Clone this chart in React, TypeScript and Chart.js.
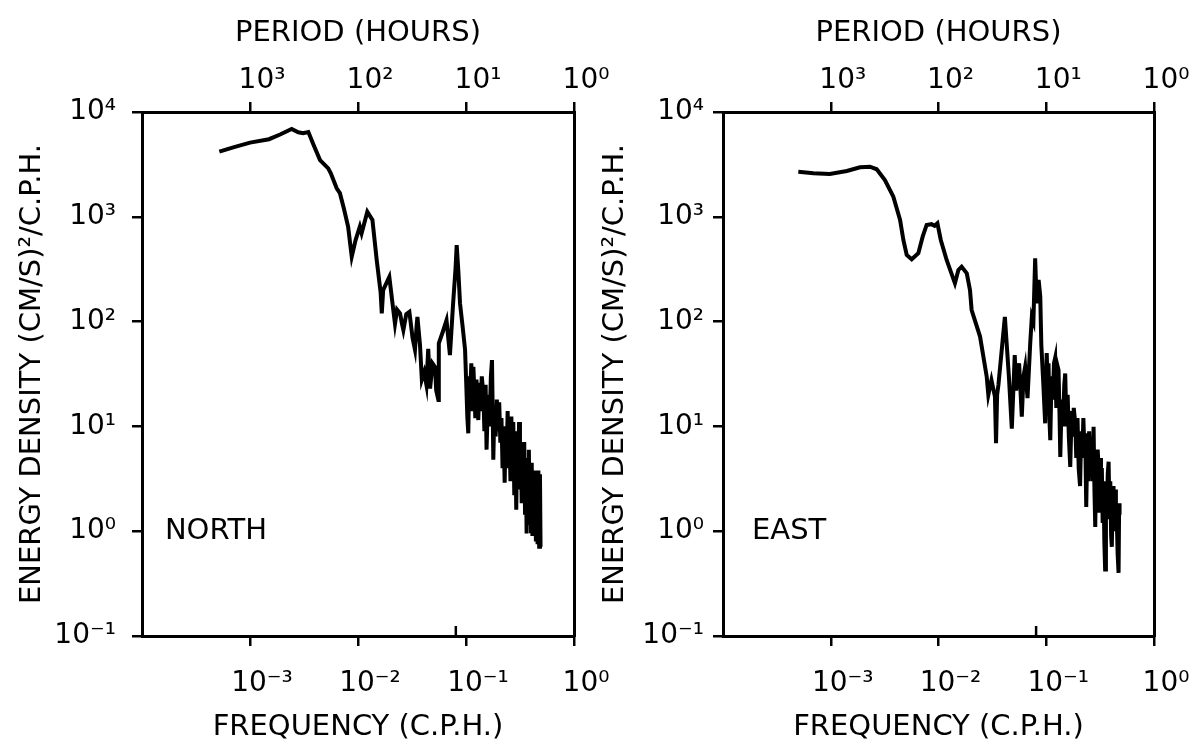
import React, { useEffect, useRef } from 'react';
import { Chart, registerables } from 'chart.js';

Chart.register(...registerables);

// ---------- DATA ----------
const NORTH_FREQ = [
  5.2e-4, 7.0e-4, 1.0e-3, 1.5e-3, 1.9e-3, 2.43e-3, 2.8e-3, 3.1e-3, 3.47e-3, 3.9e-3,
  4.45e-3, 5.3e-3, 5.6e-3, 6.35e-3, 6.8e-3, 7.4e-3, 8.1e-3, 8.75e-3, 9.5e-3, 1.04e-2,
  1.08e-2, 1.22e-2, 1.36e-2, 1.49e-2, 1.62e-2, 1.66e-2, 1.71e-2, 1.95e-2, 2.2e-2, 2.3e-2,
  2.45e-2, 2.55e-2, 2.63e-2, 2.8e-2, 2.99e-2, 3.2e-2, 3.37e-2, 3.5e-2, 3.55e-2, 3.75e-2,
  3.9e-2, 4.1e-2, 4.3e-2, 4.47e-2, 4.65e-2, 4.9e-2, 5.16e-2, 5.3e-2, 5.55e-2, 5.6e-2,
  6.1e-2, 6.6e-2, 7.1e-2, 7.6e-2, 8.0e-2, 8.2e-2, 8.5e-2, 8.8e-2, 9.3e-2, 9.8e-2,
  1.0e-1, 1.03e-1, 1.05e-1, 1.07e-1, 1.09e-1, 1.12e-1, 1.14e-1, 1.17e-1, 1.2e-1, 1.22e-1,
  1.25e-1, 1.28e-1, 1.3e-1, 1.33e-1, 1.36e-1, 1.4e-1, 1.45e-1, 1.48e-1, 1.52e-1, 1.55e-1,
  1.6e-1, 1.65e-1, 1.7e-1, 1.74e-1, 1.77e-1, 1.79e-1, 1.83e-1, 1.88e-1, 1.93e-1, 1.98e-1,
  2.03e-1, 2.08e-1, 2.13e-1, 2.18e-1, 2.23e-1, 2.28e-1, 2.33e-1, 2.38e-1, 2.43e-1, 2.48e-1,
  2.53e-1, 2.58e-1, 2.63e-1, 2.68e-1, 2.74e-1, 2.8e-1, 2.86e-1, 2.92e-1, 2.98e-1, 3.04e-1,
  3.1e-1, 3.16e-1, 3.22e-1, 3.28e-1, 3.34e-1, 3.4e-1, 3.46e-1, 3.52e-1, 3.58e-1, 3.64e-1,
  3.7e-1, 3.76e-1, 3.82e-1, 3.88e-1, 3.94e-1, 4.0e-1, 4.06e-1, 4.12e-1, 4.2e-1, 4.28e-1,
  4.36e-1, 4.44e-1, 4.52e-1, 4.6e-1, 4.68e-1, 4.76e-1, 4.84e-1, 4.9e-1,
];
const NORTH_ENERGY = [
  4180, 4600, 5100, 5500, 6100, 6890, 6400, 6270, 6440, 4800,
  3480, 2900, 2600, 1870, 1680, 1200, 805, 416, 600, 805,
  697, 1120, 934, 387, 190, 120, 200, 267, 95, 130,
  120, 96, 83, 118, 124, 70, 54, 95, 111, 60,
  28, 33, 25, 55, 23, 40, 37, 22, 17.9, 62,
  80, 103, 48, 150, 320, 538, 300, 150, 90, 54,
  30, 12, 8.6, 30, 18, 40, 14, 37, 20, 12,
  28, 16, 11.5, 26, 14, 30, 20, 9, 25, 6,
  20, 10, 30, 43, 12, 4.8, 14, 8, 18, 9,
  17, 7, 12, 4, 9, 2.9, 10, 5, 14, 4,
  8, 3, 12.4, 4, 11, 2.2, 8, 1.6, 9, 3,
  11, 2.5, 7, 1.85, 6, 2, 7.1, 1.5, 5, 0.95,
  4, 1.2, 6, 1.5, 3.8, 1, 4.5, 0.9, 3, 1.2,
  3.8, 0.8, 3, 0.75, 3.8, 0.71, 3.5, 0.71,
];

const EAST_FREQ = [
  5.0e-4, 6.9e-4, 9.8e-4, 1.41e-3, 1.87e-3, 2.31e-3, 2.67e-3, 3.18e-3, 3.81e-3, 4.4e-3,
  4.72e-3, 5.07e-3, 5.64e-3, 6.5e-3, 7.13e-3, 7.76e-3, 8.6e-3, 9.2e-3, 9.77e-3, 1.05e-2,
  1.19e-2, 1.42e-2, 1.53e-2, 1.64e-2, 1.83e-2, 1.96e-2, 2.03e-2, 2.43e-2, 2.8e-2, 2.9e-2,
  3.1e-2, 3.34e-2, 3.42e-2, 3.5e-2, 3.6e-2, 4.13e-2, 4.5e-2, 4.79e-2, 5.1e-2, 5.25e-2,
  5.4e-2, 5.6e-2, 5.93e-2, 6.15e-2, 6.37e-2, 6.7e-2, 7.1e-2, 7.35e-2, 7.6e-2, 7.89e-2,
  8.1e-2, 8.3e-2, 8.5e-2, 8.8e-2, 9.0e-2, 9.4e-2, 9.77e-2, 1.01e-1, 1.03e-1, 1.05e-1,
  1.07e-1, 1.09e-1, 1.12e-1, 1.15e-1, 1.18e-1, 1.21e-1, 1.24e-1, 1.27e-1, 1.3e-1, 1.33e-1,
  1.35e-1, 1.39e-1, 1.43e-1, 1.47e-1, 1.5e-1, 1.54e-1, 1.58e-1, 1.62e-1, 1.67e-1, 1.72e-1,
  1.76e-1, 1.8e-1, 1.86e-1, 1.9e-1, 1.95e-1, 2.0e-1, 2.06e-1, 2.11e-1, 2.16e-1, 2.21e-1,
  2.26e-1, 2.3e-1, 2.35e-1, 2.4e-1, 2.45e-1, 2.5e-1, 2.55e-1, 2.62e-1, 2.68e-1, 2.75e-1,
  2.8e-1, 2.85e-1, 2.9e-1, 2.95e-1, 3.0e-1, 3.05e-1, 3.1e-1, 3.16e-1, 3.22e-1, 3.28e-1,
  3.34e-1, 3.4e-1, 3.46e-1, 3.52e-1, 3.58e-1, 3.65e-1, 3.72e-1, 3.79e-1, 3.86e-1, 3.93e-1,
  4.0e-1, 4.06e-1, 4.13e-1, 4.21e-1, 4.28e-1, 4.36e-1, 4.43e-1, 4.5e-1, 4.6e-1, 4.69e-1,
  4.74e-1, 4.79e-1,
];
const EAST_ENERGY = [
  2690, 2600, 2560, 2735, 2970, 3005, 2840, 2245, 1555, 934,
  601, 432, 393, 449, 646, 836, 850, 820, 867, 601,
  387, 232, 311, 334, 289, 200, 129, 72, 30, 20,
  27.7, 19.2, 6.9, 20, 25, 111, 30, 9.5, 48, 22,
  28, 40, 12.4, 30, 37, 18.6, 62, 111, 100, 402,
  180, 150, 250, 173, 60, 25, 10.7, 50, 25, 40,
  12, 7.4, 30, 18, 40, 45, 15, 38, 34.5, 12,
  5.1, 18, 10, 25, 32, 10, 20, 8, 4.1, 14,
  8, 15, 10.7, 5, 12, 4, 2.7, 9, 5, 12,
  6, 8.6, 1.7, 6, 3, 9, 4, 8, 3, 9.9,
  2.5, 1.1, 5, 2.5, 6, 4.4, 1.5, 5, 2, 4,
  1.2, 3, 0.8, 0.43, 2.5, 1.3, 3.5, 4.6, 1.5, 3,
  0.9, 0.71, 2, 2.7, 1.2, 2.5, 1, 1.5, 0.6, 0.40,
  1.5, 1.85,
];

const X_TICKS = [1e-3, 1e-2, 1e-1, 1];
const X_TICK_LABELS = ['10⁻³', '10⁻²', '10⁻¹', '10⁰'];
const PERIOD_TICK_LABELS = ['10³', '10²', '10¹', '10⁰'];
const Y_TICKS = [0.1, 1, 10, 100, 1000, 10000];
const Y_TICK_LABELS = ['10⁻¹', '10⁰', '10¹', '10²', '10³', '10⁴'];
const X_MIN = 1e-4;
const X_MAX = 1;
const Y_MIN = 0.1;
const Y_MAX = 1e4;
const M2_FREQ = 0.0805;

const X_TITLE = 'FREQUENCY (C.P.H.)';
const X2_TITLE = 'PERIOD (HOURS)';
const Y_TITLE = 'ENERGY DENSITY (CM/S)²/C.P.H.';

const FONT = '"DejaVu Sans", sans-serif';

const annotPlugin = {
  id: 'annot',
  afterDatasetsDraw(chart: any, _args: any, opts: any) {
    const { ctx, scales, chartArea } = chart;
    const x = scales.x;
    const y = scales.y;
    ctx.save();
    ctx.font = `29px ${FONT}`;
    ctx.fillStyle = '#000';
    ctx.textAlign = 'left';
    ctx.textBaseline = 'middle';
    ctx.fillText(opts.text, x.getPixelForValue(opts.xVal), y.getPixelForValue(opts.yVal));
    const mx = x.getPixelForValue(opts.m2);
    ctx.strokeStyle = '#000';
    ctx.lineWidth = 2.5;
    ctx.beginPath();
    ctx.moveTo(mx, chartArea.bottom);
    ctx.lineTo(mx, chartArea.bottom - 10);
    ctx.stroke();
    ctx.restore();
  },
};

type PanelProps = {
  freq: number[];
  energy: number[];
  label: string;
  labelFreq: number;
  left: number;
  width: number;
  yAxisWidth: number;
  rightPad: number;
  yTitlePad: number;
  yTickPad: number;
};

function Panel(p: PanelProps) {
  const ref = useRef<HTMLCanvasElement | null>(null);
  useEffect(() => {
    if (!ref.current) return;
    const black = '#000';
    const grid = { drawOnChartArea: false, drawTicks: true, tickLength: 10, color: black, lineWidth: 2.5 };
    const border = { display: true, color: black, width: 3 };
    const noPadH = (s: any) => { s.paddingLeft = 0; s.paddingRight = 0; };
    const noPadV = (s: any) => { s.paddingTop = 0; s.paddingBottom = 0; };
    const chart = new Chart(ref.current, {
      type: 'scatter',
      data: {
        datasets: [
          {
            data: p.freq.map((f, i) => ({ x: f, y: p.energy[i] })),
            showLine: true,
            borderColor: black,
            borderWidth: 4,
            pointRadius: 0,
            tension: 0,
            fill: false,
          },
        ],
      },
      options: {
        responsive: false,
        animation: false,
        devicePixelRatio: 1,
        layout: { padding: { left: 0, top: 0, bottom: 0, right: p.rightPad } },
        plugins: {
          legend: { display: false },
          tooltip: { enabled: false },
          annot: { text: p.label, xVal: p.labelFreq, yVal: 1, m2: M2_FREQ },
        } as any,
        scales: {
          x: {
            type: 'logarithmic',
            position: 'bottom',
            min: X_MIN,
            max: X_MAX,
            afterBuildTicks: (s: any) => { s.ticks = X_TICKS.map((v) => ({ value: v })); },
            afterFit: (s: any) => { s.height = 109; noPadH(s); },
            ticks: {
              callback: (_v: any, i: number) => X_TICK_LABELS[i],
              font: { family: FONT, size: 28 },
              color: black,
              padding: 21,
              maxRotation: 0,
              autoSkip: false,
              labelOffset: 12,
            },
            grid,
            border,
            title: { display: true, text: X_TITLE, font: { family: FONT, size: 29 }, color: black, padding: { top: 0, bottom: 0 } },
          },
          x2: {
            type: 'logarithmic',
            position: 'top',
            min: X_MIN,
            max: X_MAX,
            afterBuildTicks: (s: any) => { s.ticks = X_TICKS.map((v) => ({ value: v })); },
            afterFit: (s: any) => { s.height = 112; noPadH(s); },
            ticks: {
              callback: (_v: any, i: number) => PERIOD_TICK_LABELS[i],
              font: { family: FONT, size: 28 },
              color: black,
              padding: 4,
              maxRotation: 0,
              autoSkip: false,
              labelOffset: 12,
            },
            grid,
            border,
            title: { display: true, text: X2_TITLE, font: { family: FONT, size: 29 }, color: black, padding: { top: 16, bottom: 0 } },
          },
          y: {
            type: 'logarithmic',
            position: 'left',
            min: Y_MIN,
            max: Y_MAX,
            afterBuildTicks: (s: any) => { s.ticks = Y_TICKS.map((v) => ({ value: v })); },
            afterFit: (s: any) => { s.width = p.yAxisWidth; noPadV(s); },
            ticks: {
              callback: (_v: any, i: number) => Y_TICK_LABELS[i],
              font: { family: FONT, size: 28 },
              color: black,
              padding: p.yTickPad,
              autoSkip: false,
            },
            grid,
            border,
            title: { display: true, text: Y_TITLE, font: { family: FONT, size: 29 }, color: black, padding: { top: p.yTitlePad, bottom: 0 } },
          },
          y2: {
            type: 'logarithmic',
            position: 'right',
            min: Y_MIN,
            max: Y_MAX,
            afterFit: (s: any) => { s.width = 0; noPadV(s); },
            ticks: { display: false },
            grid: { display: false, drawTicks: false, drawOnChartArea: false },
            border,
          },
        },
      } as any,
      plugins: [annotPlugin],
    });
    return () => chart.destroy();
  }, []);
  return (
    <canvas
      ref={ref}
      width={p.width}
      height={745}
      style={{ position: 'absolute', left: p.left, top: 0, width: p.width, height: 745 }}
    />
  );
}

export default function App() {
  return (
    <div style={{ position: 'absolute', left: 0, top: 0, width: 1189, height: 745, background: '#fff', overflow: 'hidden' }}>
      <Panel
        freq={NORTH_FREQ}
        energy={NORTH_ENERGY}
        label="NORTH"
        labelFreq={1.63e-4}
        left={0}
        width={612}
        yAxisWidth={142}
        rightPad={38}
        yTitlePad={15}
        yTickPad={16}
      />
      <Panel
        freq={EAST_FREQ}
        energy={EAST_ENERGY}
        label="EAST"
        labelFreq={1.86e-4}
        left={590}
        width={599}
        yAxisWidth={133}
        rightPad={35}
        yTitlePad={8}
        yTickPad={9}
      />
    </div>
  );
}
